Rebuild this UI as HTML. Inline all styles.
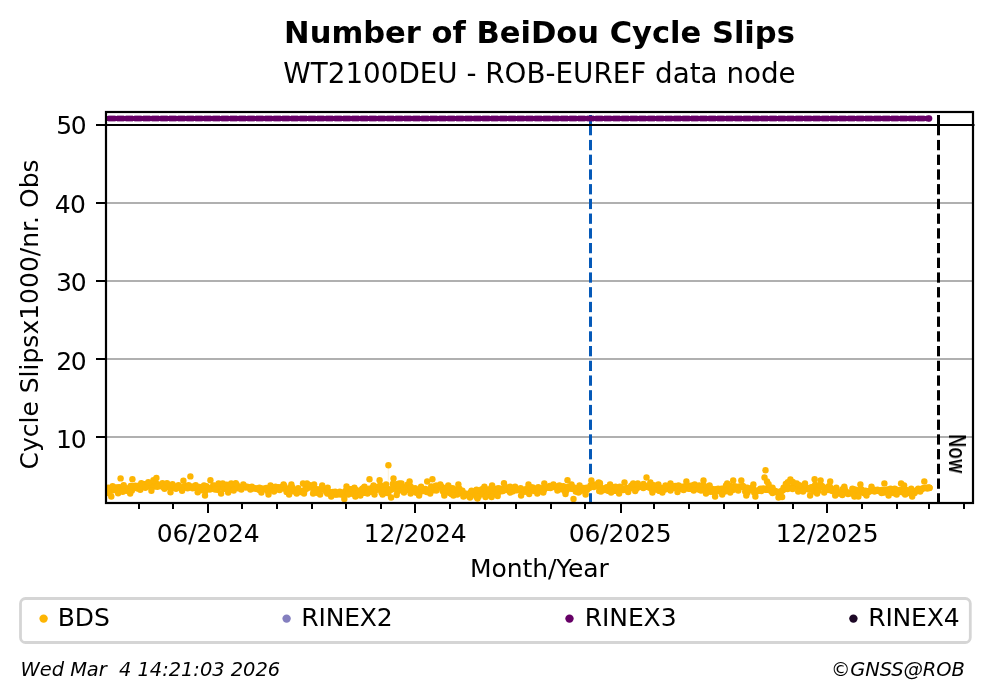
<!DOCTYPE html>
<html lang="en"><head><meta charset="utf-8"><title>Number of BeiDou Cycle Slips</title>
<style>html,body{margin:0;padding:0;background:#fff;overflow:hidden}svg{display:block}text{font-family:"DejaVu Sans", "Liberation Sans", sans-serif;fill:#000}</style></head><body>
<svg width="993" height="699" viewBox="0 0 993 699">
<rect width="993" height="699" fill="#fff"/>
<defs><clipPath id="ax"><rect x="106.0" y="112.0" width="867.0" height="391.0"/></clipPath></defs>
<text x="539.5" y="43.1" font-size="30.56" font-weight="bold" text-anchor="middle">Number of BeiDou Cycle Slips</text>
<text x="539.5" y="82.9" font-size="27.78" text-anchor="middle">WT2100DEU - ROB-EUREF data node</text>
<g stroke="#b0b0b0" stroke-width="2" clip-path="url(#ax)">
<line x1="106.0" x2="973.0" y1="437.00" y2="437.00"/>
<line x1="106.0" x2="973.0" y1="359.00" y2="359.00"/>
<line x1="106.0" x2="973.0" y1="281.00" y2="281.00"/>
<line x1="106.0" x2="973.0" y1="203.00" y2="203.00"/>
</g>
<g stroke="#0559b8" stroke-width="3" clip-path="url(#ax)"><line x1="590.5" x2="590.5" y1="115.0" y2="135.3"/><line x1="590.5" x2="590.5" y1="139.94" y2="150.22"/><line x1="590.5" x2="590.5" y1="154.66" y2="164.94"/><line x1="590.5" x2="590.5" y1="169.38" y2="179.66"/><line x1="590.5" x2="590.5" y1="184.10" y2="194.38"/><line x1="590.5" x2="590.5" y1="198.82" y2="209.10"/><line x1="590.5" x2="590.5" y1="213.54" y2="223.82"/><line x1="590.5" x2="590.5" y1="228.26" y2="238.54"/><line x1="590.5" x2="590.5" y1="242.98" y2="253.26"/><line x1="590.5" x2="590.5" y1="257.70" y2="267.98"/><line x1="590.5" x2="590.5" y1="272.42" y2="282.70"/><line x1="590.5" x2="590.5" y1="287.14" y2="297.42"/><line x1="590.5" x2="590.5" y1="301.86" y2="312.14"/><line x1="590.5" x2="590.5" y1="316.58" y2="326.86"/><line x1="590.5" x2="590.5" y1="331.30" y2="341.58"/><line x1="590.5" x2="590.5" y1="346.02" y2="356.30"/><line x1="590.5" x2="590.5" y1="360.74" y2="371.02"/><line x1="590.5" x2="590.5" y1="375.46" y2="385.74"/><line x1="590.5" x2="590.5" y1="390.18" y2="400.46"/><line x1="590.5" x2="590.5" y1="404.90" y2="415.18"/><line x1="590.5" x2="590.5" y1="419.62" y2="429.90"/><line x1="590.5" x2="590.5" y1="434.34" y2="444.62"/><line x1="590.5" x2="590.5" y1="449.06" y2="459.34"/><line x1="590.5" x2="590.5" y1="463.78" y2="474.06"/><line x1="590.5" x2="590.5" y1="478.50" y2="488.78"/><line x1="590.5" x2="590.5" y1="493.22" y2="503.50"/><line x1="590.5" x2="590.5" y1="507.94" y2="518.22"/></g>
<g stroke="#000" stroke-width="3" clip-path="url(#ax)"><line x1="938.5" x2="938.5" y1="115.0" y2="135.3"/><line x1="938.5" x2="938.5" y1="139.94" y2="150.22"/><line x1="938.5" x2="938.5" y1="154.66" y2="164.94"/><line x1="938.5" x2="938.5" y1="169.38" y2="179.66"/><line x1="938.5" x2="938.5" y1="184.10" y2="194.38"/><line x1="938.5" x2="938.5" y1="198.82" y2="209.10"/><line x1="938.5" x2="938.5" y1="213.54" y2="223.82"/><line x1="938.5" x2="938.5" y1="228.26" y2="238.54"/><line x1="938.5" x2="938.5" y1="242.98" y2="253.26"/><line x1="938.5" x2="938.5" y1="257.70" y2="267.98"/><line x1="938.5" x2="938.5" y1="272.42" y2="282.70"/><line x1="938.5" x2="938.5" y1="287.14" y2="297.42"/><line x1="938.5" x2="938.5" y1="301.86" y2="312.14"/><line x1="938.5" x2="938.5" y1="316.58" y2="326.86"/><line x1="938.5" x2="938.5" y1="331.30" y2="341.58"/><line x1="938.5" x2="938.5" y1="346.02" y2="356.30"/><line x1="938.5" x2="938.5" y1="360.74" y2="371.02"/><line x1="938.5" x2="938.5" y1="375.46" y2="385.74"/><line x1="938.5" x2="938.5" y1="390.18" y2="400.46"/><line x1="938.5" x2="938.5" y1="404.90" y2="415.18"/><line x1="938.5" x2="938.5" y1="419.62" y2="429.90"/><line x1="938.5" x2="938.5" y1="434.34" y2="444.62"/><line x1="938.5" x2="938.5" y1="449.06" y2="459.34"/><line x1="938.5" x2="938.5" y1="463.78" y2="474.06"/><line x1="938.5" x2="938.5" y1="478.50" y2="488.78"/><line x1="938.5" x2="938.5" y1="493.22" y2="503.50"/><line x1="938.5" x2="938.5" y1="507.94" y2="518.22"/></g>
<line x1="106.0" x2="974.5" y1="125.00" y2="125.00" stroke="#000" stroke-width="2"/>
<line x1="388.4" x2="388.4" y1="468" y2="483" stroke="#fdb503" stroke-width="1.4" opacity="0.12"/>
<g fill="#fdb503" clip-path="url(#ax)">
<circle cx="107.0" cy="489.8" r="3.2"/>
<circle cx="108.1" cy="489.3" r="3.2"/>
<circle cx="109.3" cy="491.0" r="3.2"/>
<circle cx="110.4" cy="488.6" r="3.2"/>
<circle cx="111.5" cy="490.7" r="3.2"/>
<circle cx="112.6" cy="489.6" r="3.2"/>
<circle cx="113.8" cy="487.8" r="3.2"/>
<circle cx="114.9" cy="490.0" r="3.2"/>
<circle cx="116.0" cy="487.5" r="3.2"/>
<circle cx="117.2" cy="489.3" r="3.2"/>
<circle cx="118.3" cy="487.4" r="3.2"/>
<circle cx="119.4" cy="487.3" r="3.2"/>
<circle cx="120.6" cy="488.7" r="3.2"/>
<circle cx="121.7" cy="490.1" r="3.2"/>
<circle cx="122.8" cy="487.1" r="3.2"/>
<circle cx="123.9" cy="487.4" r="3.2"/>
<circle cx="125.1" cy="489.2" r="3.2"/>
<circle cx="126.2" cy="490.8" r="3.2"/>
<circle cx="127.3" cy="489.1" r="3.2"/>
<circle cx="128.5" cy="488.1" r="3.2"/>
<circle cx="129.6" cy="491.5" r="3.2"/>
<circle cx="130.7" cy="486.0" r="3.2"/>
<circle cx="131.9" cy="490.4" r="3.2"/>
<circle cx="133.0" cy="487.0" r="3.2"/>
<circle cx="134.1" cy="486.1" r="3.2"/>
<circle cx="135.2" cy="485.8" r="3.2"/>
<circle cx="136.4" cy="486.5" r="3.2"/>
<circle cx="137.5" cy="488.6" r="3.2"/>
<circle cx="138.6" cy="485.6" r="3.2"/>
<circle cx="139.8" cy="487.0" r="3.2"/>
<circle cx="140.9" cy="486.9" r="3.2"/>
<circle cx="142.0" cy="485.7" r="3.2"/>
<circle cx="143.1" cy="485.9" r="3.2"/>
<circle cx="144.3" cy="484.3" r="3.2"/>
<circle cx="145.4" cy="484.1" r="3.2"/>
<circle cx="146.5" cy="484.4" r="3.2"/>
<circle cx="147.7" cy="486.4" r="3.2"/>
<circle cx="148.8" cy="485.5" r="3.2"/>
<circle cx="149.9" cy="485.1" r="3.2"/>
<circle cx="151.1" cy="486.9" r="3.2"/>
<circle cx="152.2" cy="485.9" r="3.2"/>
<circle cx="153.3" cy="484.8" r="3.2"/>
<circle cx="154.4" cy="486.6" r="3.2"/>
<circle cx="155.6" cy="485.7" r="3.2"/>
<circle cx="156.7" cy="484.0" r="3.2"/>
<circle cx="157.8" cy="484.8" r="3.2"/>
<circle cx="159.0" cy="484.9" r="3.2"/>
<circle cx="160.1" cy="486.0" r="3.2"/>
<circle cx="161.2" cy="486.0" r="3.2"/>
<circle cx="162.3" cy="485.2" r="3.2"/>
<circle cx="163.5" cy="487.2" r="3.2"/>
<circle cx="164.6" cy="484.9" r="3.2"/>
<circle cx="165.7" cy="485.9" r="3.2"/>
<circle cx="166.9" cy="487.1" r="3.2"/>
<circle cx="168.0" cy="485.2" r="3.2"/>
<circle cx="169.1" cy="486.6" r="3.2"/>
<circle cx="170.3" cy="485.2" r="3.2"/>
<circle cx="171.4" cy="487.4" r="3.2"/>
<circle cx="172.5" cy="487.6" r="3.2"/>
<circle cx="173.6" cy="487.0" r="3.2"/>
<circle cx="174.8" cy="487.5" r="3.2"/>
<circle cx="175.9" cy="486.5" r="3.2"/>
<circle cx="177.0" cy="487.3" r="3.2"/>
<circle cx="178.2" cy="487.3" r="3.2"/>
<circle cx="179.3" cy="487.4" r="3.2"/>
<circle cx="180.4" cy="487.1" r="3.2"/>
<circle cx="181.6" cy="488.1" r="3.2"/>
<circle cx="182.7" cy="488.4" r="3.2"/>
<circle cx="183.8" cy="486.7" r="3.2"/>
<circle cx="184.9" cy="487.1" r="3.2"/>
<circle cx="186.1" cy="486.0" r="3.2"/>
<circle cx="187.2" cy="486.8" r="3.2"/>
<circle cx="188.3" cy="486.8" r="3.2"/>
<circle cx="189.5" cy="487.0" r="3.2"/>
<circle cx="190.6" cy="486.9" r="3.2"/>
<circle cx="191.7" cy="486.6" r="3.2"/>
<circle cx="192.8" cy="486.8" r="3.2"/>
<circle cx="194.0" cy="487.5" r="3.2"/>
<circle cx="195.1" cy="486.6" r="3.2"/>
<circle cx="196.2" cy="488.0" r="3.2"/>
<circle cx="197.4" cy="487.2" r="3.2"/>
<circle cx="198.5" cy="487.1" r="3.2"/>
<circle cx="199.6" cy="486.9" r="3.2"/>
<circle cx="200.8" cy="490.3" r="3.2"/>
<circle cx="201.9" cy="487.3" r="3.2"/>
<circle cx="203.0" cy="488.0" r="3.2"/>
<circle cx="204.1" cy="488.8" r="3.2"/>
<circle cx="205.3" cy="491.3" r="3.2"/>
<circle cx="206.4" cy="486.1" r="3.2"/>
<circle cx="207.5" cy="487.8" r="3.2"/>
<circle cx="208.7" cy="487.9" r="3.2"/>
<circle cx="209.8" cy="489.6" r="3.2"/>
<circle cx="210.9" cy="488.7" r="3.2"/>
<circle cx="212.0" cy="488.7" r="3.2"/>
<circle cx="213.2" cy="485.4" r="3.2"/>
<circle cx="214.3" cy="486.0" r="3.2"/>
<circle cx="215.4" cy="485.8" r="3.2"/>
<circle cx="216.6" cy="488.6" r="3.2"/>
<circle cx="217.7" cy="489.7" r="3.2"/>
<circle cx="218.8" cy="485.7" r="3.2"/>
<circle cx="220.0" cy="486.0" r="3.2"/>
<circle cx="221.1" cy="486.5" r="3.2"/>
<circle cx="222.2" cy="486.5" r="3.2"/>
<circle cx="223.3" cy="488.1" r="3.2"/>
<circle cx="224.5" cy="488.7" r="3.2"/>
<circle cx="225.6" cy="486.4" r="3.2"/>
<circle cx="226.7" cy="484.8" r="3.2"/>
<circle cx="227.9" cy="487.2" r="3.2"/>
<circle cx="229.0" cy="486.8" r="3.2"/>
<circle cx="230.1" cy="487.7" r="3.2"/>
<circle cx="231.3" cy="489.5" r="3.2"/>
<circle cx="232.4" cy="488.0" r="3.2"/>
<circle cx="233.5" cy="487.0" r="3.2"/>
<circle cx="234.6" cy="487.4" r="3.2"/>
<circle cx="235.8" cy="487.5" r="3.2"/>
<circle cx="236.9" cy="485.0" r="3.2"/>
<circle cx="238.0" cy="488.3" r="3.2"/>
<circle cx="239.2" cy="487.7" r="3.2"/>
<circle cx="240.3" cy="488.0" r="3.2"/>
<circle cx="241.4" cy="487.7" r="3.2"/>
<circle cx="242.5" cy="486.7" r="3.2"/>
<circle cx="243.7" cy="486.8" r="3.2"/>
<circle cx="244.8" cy="486.4" r="3.2"/>
<circle cx="245.9" cy="487.6" r="3.2"/>
<circle cx="247.1" cy="486.8" r="3.2"/>
<circle cx="248.2" cy="487.1" r="3.2"/>
<circle cx="249.3" cy="487.5" r="3.2"/>
<circle cx="250.5" cy="487.7" r="3.2"/>
<circle cx="251.6" cy="488.0" r="3.2"/>
<circle cx="252.7" cy="488.0" r="3.2"/>
<circle cx="253.8" cy="488.2" r="3.2"/>
<circle cx="255.0" cy="488.4" r="3.2"/>
<circle cx="256.1" cy="488.5" r="3.2"/>
<circle cx="257.2" cy="489.0" r="3.2"/>
<circle cx="258.4" cy="488.8" r="3.2"/>
<circle cx="259.5" cy="489.9" r="3.2"/>
<circle cx="260.6" cy="489.6" r="3.2"/>
<circle cx="261.7" cy="488.8" r="3.2"/>
<circle cx="262.9" cy="488.8" r="3.2"/>
<circle cx="264.0" cy="489.0" r="3.2"/>
<circle cx="265.1" cy="488.9" r="3.2"/>
<circle cx="266.3" cy="488.0" r="3.2"/>
<circle cx="267.4" cy="490.7" r="3.2"/>
<circle cx="268.5" cy="491.4" r="3.2"/>
<circle cx="269.7" cy="488.9" r="3.2"/>
<circle cx="270.8" cy="488.8" r="3.2"/>
<circle cx="271.9" cy="487.4" r="3.2"/>
<circle cx="273.0" cy="487.7" r="3.2"/>
<circle cx="274.2" cy="488.5" r="3.2"/>
<circle cx="275.3" cy="488.4" r="3.2"/>
<circle cx="276.4" cy="489.2" r="3.2"/>
<circle cx="277.6" cy="487.7" r="3.2"/>
<circle cx="278.7" cy="487.1" r="3.2"/>
<circle cx="279.8" cy="488.7" r="3.2"/>
<circle cx="281.0" cy="488.0" r="3.2"/>
<circle cx="282.1" cy="486.7" r="3.2"/>
<circle cx="283.2" cy="488.4" r="3.2"/>
<circle cx="284.3" cy="485.9" r="3.2"/>
<circle cx="285.5" cy="488.8" r="3.2"/>
<circle cx="286.6" cy="491.9" r="3.2"/>
<circle cx="287.7" cy="491.6" r="3.2"/>
<circle cx="288.9" cy="490.9" r="3.2"/>
<circle cx="290.0" cy="487.7" r="3.2"/>
<circle cx="291.1" cy="488.4" r="3.2"/>
<circle cx="292.2" cy="487.3" r="3.2"/>
<circle cx="293.4" cy="491.3" r="3.2"/>
<circle cx="294.5" cy="490.1" r="3.2"/>
<circle cx="295.6" cy="491.4" r="3.2"/>
<circle cx="296.8" cy="489.8" r="3.2"/>
<circle cx="297.9" cy="489.9" r="3.2"/>
<circle cx="299.0" cy="491.5" r="3.2"/>
<circle cx="300.2" cy="492.1" r="3.2"/>
<circle cx="301.3" cy="491.4" r="3.2"/>
<circle cx="302.4" cy="490.9" r="3.2"/>
<circle cx="303.5" cy="490.9" r="3.2"/>
<circle cx="304.7" cy="490.3" r="3.2"/>
<circle cx="305.8" cy="486.5" r="3.2"/>
<circle cx="306.9" cy="488.6" r="3.2"/>
<circle cx="308.1" cy="487.5" r="3.2"/>
<circle cx="309.2" cy="485.3" r="3.2"/>
<circle cx="310.3" cy="485.5" r="3.2"/>
<circle cx="311.5" cy="487.3" r="3.2"/>
<circle cx="312.6" cy="487.3" r="3.2"/>
<circle cx="313.7" cy="490.3" r="3.2"/>
<circle cx="314.8" cy="492.2" r="3.2"/>
<circle cx="316.0" cy="489.0" r="3.2"/>
<circle cx="317.1" cy="492.4" r="3.2"/>
<circle cx="318.2" cy="492.9" r="3.2"/>
<circle cx="319.4" cy="492.8" r="3.2"/>
<circle cx="320.5" cy="489.0" r="3.2"/>
<circle cx="321.6" cy="488.2" r="3.2"/>
<circle cx="322.7" cy="488.5" r="3.2"/>
<circle cx="323.9" cy="488.7" r="3.2"/>
<circle cx="325.0" cy="489.1" r="3.2"/>
<circle cx="326.1" cy="491.8" r="3.2"/>
<circle cx="327.3" cy="493.5" r="3.2"/>
<circle cx="328.4" cy="493.3" r="3.2"/>
<circle cx="329.5" cy="492.0" r="3.2"/>
<circle cx="330.7" cy="493.0" r="3.2"/>
<circle cx="331.8" cy="493.8" r="3.2"/>
<circle cx="332.9" cy="491.9" r="3.2"/>
<circle cx="334.0" cy="493.8" r="3.2"/>
<circle cx="335.2" cy="494.5" r="3.2"/>
<circle cx="336.3" cy="494.4" r="3.2"/>
<circle cx="337.4" cy="494.4" r="3.2"/>
<circle cx="338.6" cy="493.9" r="3.2"/>
<circle cx="339.7" cy="493.3" r="3.2"/>
<circle cx="340.8" cy="494.5" r="3.2"/>
<circle cx="341.9" cy="492.6" r="3.2"/>
<circle cx="343.1" cy="494.3" r="3.2"/>
<circle cx="344.2" cy="495.2" r="3.2"/>
<circle cx="345.3" cy="491.1" r="3.2"/>
<circle cx="346.5" cy="490.3" r="3.2"/>
<circle cx="347.6" cy="493.3" r="3.2"/>
<circle cx="348.7" cy="491.9" r="3.2"/>
<circle cx="349.9" cy="489.1" r="3.2"/>
<circle cx="351.0" cy="489.1" r="3.2"/>
<circle cx="352.1" cy="489.4" r="3.2"/>
<circle cx="353.2" cy="494.0" r="3.2"/>
<circle cx="354.4" cy="493.7" r="3.2"/>
<circle cx="355.5" cy="489.7" r="3.2"/>
<circle cx="356.6" cy="493.9" r="3.2"/>
<circle cx="357.8" cy="494.6" r="3.2"/>
<circle cx="358.9" cy="492.4" r="3.2"/>
<circle cx="360.0" cy="490.4" r="3.2"/>
<circle cx="361.2" cy="491.4" r="3.2"/>
<circle cx="362.3" cy="488.8" r="3.2"/>
<circle cx="363.4" cy="488.1" r="3.2"/>
<circle cx="364.5" cy="492.9" r="3.2"/>
<circle cx="365.7" cy="490.8" r="3.2"/>
<circle cx="366.8" cy="489.8" r="3.2"/>
<circle cx="367.9" cy="491.9" r="3.2"/>
<circle cx="369.1" cy="488.7" r="3.2"/>
<circle cx="370.2" cy="491.7" r="3.2"/>
<circle cx="371.3" cy="491.6" r="3.2"/>
<circle cx="372.4" cy="487.8" r="3.2"/>
<circle cx="373.6" cy="488.3" r="3.2"/>
<circle cx="374.7" cy="488.2" r="3.2"/>
<circle cx="375.8" cy="487.4" r="3.2"/>
<circle cx="377.0" cy="489.8" r="3.2"/>
<circle cx="378.1" cy="486.7" r="3.2"/>
<circle cx="379.2" cy="487.7" r="3.2"/>
<circle cx="380.4" cy="485.1" r="3.2"/>
<circle cx="381.5" cy="492.4" r="3.2"/>
<circle cx="382.6" cy="487.7" r="3.2"/>
<circle cx="383.7" cy="488.8" r="3.2"/>
<circle cx="384.9" cy="490.1" r="3.2"/>
<circle cx="386.0" cy="492.9" r="3.2"/>
<circle cx="387.1" cy="489.0" r="3.2"/>
<circle cx="388.3" cy="493.3" r="3.2"/>
<circle cx="389.4" cy="489.5" r="3.2"/>
<circle cx="390.5" cy="489.7" r="3.2"/>
<circle cx="391.6" cy="489.5" r="3.2"/>
<circle cx="392.8" cy="484.0" r="3.2"/>
<circle cx="393.9" cy="488.2" r="3.2"/>
<circle cx="395.0" cy="485.8" r="3.2"/>
<circle cx="396.2" cy="484.2" r="3.2"/>
<circle cx="397.3" cy="491.7" r="3.2"/>
<circle cx="398.4" cy="486.1" r="3.2"/>
<circle cx="399.6" cy="488.6" r="3.2"/>
<circle cx="400.7" cy="490.3" r="3.2"/>
<circle cx="401.8" cy="488.8" r="3.2"/>
<circle cx="402.9" cy="486.9" r="3.2"/>
<circle cx="404.1" cy="487.9" r="3.2"/>
<circle cx="405.2" cy="488.2" r="3.2"/>
<circle cx="406.3" cy="489.9" r="3.2"/>
<circle cx="407.5" cy="484.7" r="3.2"/>
<circle cx="408.6" cy="488.3" r="3.2"/>
<circle cx="409.7" cy="485.8" r="3.2"/>
<circle cx="410.9" cy="486.9" r="3.2"/>
<circle cx="412.0" cy="491.0" r="3.2"/>
<circle cx="413.1" cy="490.0" r="3.2"/>
<circle cx="414.2" cy="490.9" r="3.2"/>
<circle cx="415.4" cy="492.0" r="3.2"/>
<circle cx="416.5" cy="492.7" r="3.2"/>
<circle cx="417.6" cy="490.7" r="3.2"/>
<circle cx="418.8" cy="491.5" r="3.2"/>
<circle cx="419.9" cy="490.8" r="3.2"/>
<circle cx="421.0" cy="490.6" r="3.2"/>
<circle cx="422.1" cy="491.3" r="3.2"/>
<circle cx="423.3" cy="489.5" r="3.2"/>
<circle cx="424.4" cy="489.7" r="3.2"/>
<circle cx="425.5" cy="488.9" r="3.2"/>
<circle cx="426.7" cy="492.1" r="3.2"/>
<circle cx="427.8" cy="490.1" r="3.2"/>
<circle cx="428.9" cy="491.4" r="3.2"/>
<circle cx="430.1" cy="491.8" r="3.2"/>
<circle cx="431.2" cy="486.4" r="3.2"/>
<circle cx="432.3" cy="488.3" r="3.2"/>
<circle cx="433.4" cy="490.3" r="3.2"/>
<circle cx="434.6" cy="489.2" r="3.2"/>
<circle cx="435.7" cy="485.7" r="3.2"/>
<circle cx="436.8" cy="485.8" r="3.2"/>
<circle cx="438.0" cy="487.6" r="3.2"/>
<circle cx="439.1" cy="486.0" r="3.2"/>
<circle cx="440.2" cy="487.2" r="3.2"/>
<circle cx="441.3" cy="486.4" r="3.2"/>
<circle cx="442.5" cy="490.8" r="3.2"/>
<circle cx="443.6" cy="492.1" r="3.2"/>
<circle cx="444.7" cy="493.4" r="3.2"/>
<circle cx="445.9" cy="487.7" r="3.2"/>
<circle cx="447.0" cy="492.1" r="3.2"/>
<circle cx="448.1" cy="491.7" r="3.2"/>
<circle cx="449.3" cy="487.8" r="3.2"/>
<circle cx="450.4" cy="493.3" r="3.2"/>
<circle cx="451.5" cy="493.9" r="3.2"/>
<circle cx="452.6" cy="488.1" r="3.2"/>
<circle cx="453.8" cy="493.9" r="3.2"/>
<circle cx="454.9" cy="489.4" r="3.2"/>
<circle cx="456.0" cy="490.1" r="3.2"/>
<circle cx="457.2" cy="494.5" r="3.2"/>
<circle cx="458.3" cy="493.2" r="3.2"/>
<circle cx="459.4" cy="488.6" r="3.2"/>
<circle cx="460.6" cy="491.6" r="3.2"/>
<circle cx="461.7" cy="493.0" r="3.2"/>
<circle cx="462.8" cy="493.2" r="3.2"/>
<circle cx="463.9" cy="493.5" r="3.2"/>
<circle cx="465.1" cy="494.4" r="3.2"/>
<circle cx="466.2" cy="495.4" r="3.2"/>
<circle cx="467.3" cy="494.4" r="3.2"/>
<circle cx="468.5" cy="495.0" r="3.2"/>
<circle cx="469.6" cy="494.4" r="3.2"/>
<circle cx="470.7" cy="492.4" r="3.2"/>
<circle cx="471.8" cy="493.3" r="3.2"/>
<circle cx="473.0" cy="494.6" r="3.2"/>
<circle cx="474.1" cy="494.0" r="3.2"/>
<circle cx="475.2" cy="491.5" r="3.2"/>
<circle cx="476.4" cy="496.7" r="3.2"/>
<circle cx="477.5" cy="495.6" r="3.2"/>
<circle cx="478.6" cy="496.5" r="3.2"/>
<circle cx="479.8" cy="490.5" r="3.2"/>
<circle cx="480.9" cy="491.3" r="3.2"/>
<circle cx="482.0" cy="489.3" r="3.2"/>
<circle cx="483.1" cy="494.4" r="3.2"/>
<circle cx="484.3" cy="490.3" r="3.2"/>
<circle cx="485.4" cy="489.0" r="3.2"/>
<circle cx="486.5" cy="491.1" r="3.2"/>
<circle cx="487.7" cy="495.0" r="3.2"/>
<circle cx="488.8" cy="494.2" r="3.2"/>
<circle cx="489.9" cy="489.4" r="3.2"/>
<circle cx="491.1" cy="488.3" r="3.2"/>
<circle cx="492.2" cy="494.9" r="3.2"/>
<circle cx="493.3" cy="491.9" r="3.2"/>
<circle cx="494.4" cy="493.0" r="3.2"/>
<circle cx="495.6" cy="488.9" r="3.2"/>
<circle cx="496.7" cy="489.1" r="3.2"/>
<circle cx="497.8" cy="492.9" r="3.2"/>
<circle cx="499.0" cy="490.9" r="3.2"/>
<circle cx="500.1" cy="488.8" r="3.2"/>
<circle cx="501.2" cy="491.2" r="3.2"/>
<circle cx="502.3" cy="489.3" r="3.2"/>
<circle cx="503.5" cy="489.2" r="3.2"/>
<circle cx="504.6" cy="487.1" r="3.2"/>
<circle cx="505.7" cy="489.8" r="3.2"/>
<circle cx="506.9" cy="487.5" r="3.2"/>
<circle cx="508.0" cy="490.3" r="3.2"/>
<circle cx="509.1" cy="489.2" r="3.2"/>
<circle cx="510.3" cy="489.0" r="3.2"/>
<circle cx="511.4" cy="489.9" r="3.2"/>
<circle cx="512.5" cy="491.4" r="3.2"/>
<circle cx="513.6" cy="489.0" r="3.2"/>
<circle cx="514.8" cy="488.4" r="3.2"/>
<circle cx="515.9" cy="490.4" r="3.2"/>
<circle cx="517.0" cy="489.4" r="3.2"/>
<circle cx="518.2" cy="489.2" r="3.2"/>
<circle cx="519.3" cy="489.7" r="3.2"/>
<circle cx="520.4" cy="489.5" r="3.2"/>
<circle cx="521.5" cy="489.9" r="3.2"/>
<circle cx="522.7" cy="490.1" r="3.2"/>
<circle cx="523.8" cy="489.8" r="3.2"/>
<circle cx="524.9" cy="491.7" r="3.2"/>
<circle cx="526.1" cy="489.1" r="3.2"/>
<circle cx="527.2" cy="489.9" r="3.2"/>
<circle cx="528.3" cy="487.8" r="3.2"/>
<circle cx="529.5" cy="488.8" r="3.2"/>
<circle cx="530.6" cy="487.2" r="3.2"/>
<circle cx="531.7" cy="488.5" r="3.2"/>
<circle cx="532.8" cy="487.5" r="3.2"/>
<circle cx="534.0" cy="491.0" r="3.2"/>
<circle cx="535.1" cy="490.3" r="3.2"/>
<circle cx="536.2" cy="488.8" r="3.2"/>
<circle cx="537.4" cy="490.1" r="3.2"/>
<circle cx="538.5" cy="491.8" r="3.2"/>
<circle cx="539.6" cy="488.1" r="3.2"/>
<circle cx="540.8" cy="490.8" r="3.2"/>
<circle cx="541.9" cy="488.5" r="3.2"/>
<circle cx="543.0" cy="488.4" r="3.2"/>
<circle cx="544.1" cy="489.7" r="3.2"/>
<circle cx="545.3" cy="486.9" r="3.2"/>
<circle cx="546.4" cy="487.2" r="3.2"/>
<circle cx="547.5" cy="487.5" r="3.2"/>
<circle cx="548.7" cy="487.8" r="3.2"/>
<circle cx="549.8" cy="486.0" r="3.2"/>
<circle cx="550.9" cy="486.7" r="3.2"/>
<circle cx="552.0" cy="486.8" r="3.2"/>
<circle cx="553.2" cy="487.0" r="3.2"/>
<circle cx="554.3" cy="486.8" r="3.2"/>
<circle cx="555.4" cy="487.0" r="3.2"/>
<circle cx="556.6" cy="486.5" r="3.2"/>
<circle cx="557.7" cy="486.9" r="3.2"/>
<circle cx="558.8" cy="486.9" r="3.2"/>
<circle cx="560.0" cy="489.3" r="3.2"/>
<circle cx="561.1" cy="487.4" r="3.2"/>
<circle cx="562.2" cy="486.9" r="3.2"/>
<circle cx="563.3" cy="486.2" r="3.2"/>
<circle cx="564.5" cy="491.0" r="3.2"/>
<circle cx="565.6" cy="491.5" r="3.2"/>
<circle cx="566.7" cy="489.9" r="3.2"/>
<circle cx="567.9" cy="486.9" r="3.2"/>
<circle cx="569.0" cy="486.8" r="3.2"/>
<circle cx="570.1" cy="487.4" r="3.2"/>
<circle cx="571.2" cy="488.8" r="3.2"/>
<circle cx="572.4" cy="486.9" r="3.2"/>
<circle cx="573.5" cy="488.9" r="3.2"/>
<circle cx="574.6" cy="487.8" r="3.2"/>
<circle cx="575.8" cy="491.6" r="3.2"/>
<circle cx="576.9" cy="491.4" r="3.2"/>
<circle cx="578.0" cy="489.2" r="3.2"/>
<circle cx="579.2" cy="487.9" r="3.2"/>
<circle cx="580.3" cy="491.3" r="3.2"/>
<circle cx="581.4" cy="488.7" r="3.2"/>
<circle cx="582.5" cy="489.2" r="3.2"/>
<circle cx="583.7" cy="488.0" r="3.2"/>
<circle cx="584.8" cy="489.9" r="3.2"/>
<circle cx="585.9" cy="490.3" r="3.2"/>
<circle cx="587.1" cy="489.8" r="3.2"/>
<circle cx="588.2" cy="488.0" r="3.2"/>
<circle cx="589.3" cy="487.9" r="3.2"/>
<circle cx="590.5" cy="485.5" r="3.2"/>
<circle cx="591.6" cy="485.4" r="3.2"/>
<circle cx="592.7" cy="484.8" r="3.2"/>
<circle cx="593.8" cy="485.1" r="3.2"/>
<circle cx="595.0" cy="484.7" r="3.2"/>
<circle cx="596.1" cy="484.7" r="3.2"/>
<circle cx="597.2" cy="485.7" r="3.2"/>
<circle cx="598.4" cy="485.6" r="3.2"/>
<circle cx="599.5" cy="487.6" r="3.2"/>
<circle cx="600.6" cy="487.5" r="3.2"/>
<circle cx="601.7" cy="488.9" r="3.2"/>
<circle cx="602.9" cy="488.5" r="3.2"/>
<circle cx="604.0" cy="489.0" r="3.2"/>
<circle cx="605.1" cy="490.0" r="3.2"/>
<circle cx="606.3" cy="487.4" r="3.2"/>
<circle cx="607.4" cy="487.2" r="3.2"/>
<circle cx="608.5" cy="490.9" r="3.2"/>
<circle cx="609.7" cy="486.5" r="3.2"/>
<circle cx="610.8" cy="489.8" r="3.2"/>
<circle cx="611.9" cy="489.5" r="3.2"/>
<circle cx="613.0" cy="487.1" r="3.2"/>
<circle cx="614.2" cy="490.6" r="3.2"/>
<circle cx="615.3" cy="490.9" r="3.2"/>
<circle cx="616.4" cy="489.9" r="3.2"/>
<circle cx="617.6" cy="490.2" r="3.2"/>
<circle cx="618.7" cy="490.5" r="3.2"/>
<circle cx="619.8" cy="486.7" r="3.2"/>
<circle cx="620.9" cy="488.5" r="3.2"/>
<circle cx="622.1" cy="488.1" r="3.2"/>
<circle cx="623.2" cy="490.0" r="3.2"/>
<circle cx="624.3" cy="489.6" r="3.2"/>
<circle cx="625.5" cy="489.7" r="3.2"/>
<circle cx="626.6" cy="488.0" r="3.2"/>
<circle cx="627.7" cy="490.0" r="3.2"/>
<circle cx="628.9" cy="488.6" r="3.2"/>
<circle cx="630.0" cy="488.6" r="3.2"/>
<circle cx="631.1" cy="485.9" r="3.2"/>
<circle cx="632.2" cy="484.9" r="3.2"/>
<circle cx="633.4" cy="485.5" r="3.2"/>
<circle cx="634.5" cy="486.6" r="3.2"/>
<circle cx="635.6" cy="485.3" r="3.2"/>
<circle cx="636.8" cy="488.4" r="3.2"/>
<circle cx="637.9" cy="487.0" r="3.2"/>
<circle cx="639.0" cy="486.9" r="3.2"/>
<circle cx="640.2" cy="486.6" r="3.2"/>
<circle cx="641.3" cy="486.4" r="3.2"/>
<circle cx="642.4" cy="485.6" r="3.2"/>
<circle cx="643.5" cy="484.0" r="3.2"/>
<circle cx="644.7" cy="486.7" r="3.2"/>
<circle cx="645.8" cy="486.9" r="3.2"/>
<circle cx="646.9" cy="486.1" r="3.2"/>
<circle cx="648.1" cy="486.6" r="3.2"/>
<circle cx="649.2" cy="487.6" r="3.2"/>
<circle cx="650.3" cy="484.2" r="3.2"/>
<circle cx="651.4" cy="489.0" r="3.2"/>
<circle cx="652.6" cy="486.1" r="3.2"/>
<circle cx="653.7" cy="485.1" r="3.2"/>
<circle cx="654.8" cy="486.6" r="3.2"/>
<circle cx="656.0" cy="489.5" r="3.2"/>
<circle cx="657.1" cy="486.6" r="3.2"/>
<circle cx="658.2" cy="489.7" r="3.2"/>
<circle cx="659.4" cy="490.9" r="3.2"/>
<circle cx="660.5" cy="488.5" r="3.2"/>
<circle cx="661.6" cy="488.0" r="3.2"/>
<circle cx="662.7" cy="488.5" r="3.2"/>
<circle cx="663.9" cy="489.3" r="3.2"/>
<circle cx="665.0" cy="489.5" r="3.2"/>
<circle cx="666.1" cy="488.7" r="3.2"/>
<circle cx="667.3" cy="488.5" r="3.2"/>
<circle cx="668.4" cy="486.0" r="3.2"/>
<circle cx="669.5" cy="485.8" r="3.2"/>
<circle cx="670.7" cy="486.0" r="3.2"/>
<circle cx="671.8" cy="488.3" r="3.2"/>
<circle cx="672.9" cy="486.7" r="3.2"/>
<circle cx="674.0" cy="488.0" r="3.2"/>
<circle cx="675.2" cy="486.0" r="3.2"/>
<circle cx="676.3" cy="486.5" r="3.2"/>
<circle cx="677.4" cy="487.6" r="3.2"/>
<circle cx="678.6" cy="489.0" r="3.2"/>
<circle cx="679.7" cy="488.8" r="3.2"/>
<circle cx="680.8" cy="488.4" r="3.2"/>
<circle cx="681.9" cy="486.8" r="3.2"/>
<circle cx="683.1" cy="487.2" r="3.2"/>
<circle cx="684.2" cy="486.8" r="3.2"/>
<circle cx="685.3" cy="486.7" r="3.2"/>
<circle cx="686.5" cy="485.1" r="3.2"/>
<circle cx="687.6" cy="488.5" r="3.2"/>
<circle cx="688.7" cy="485.7" r="3.2"/>
<circle cx="689.9" cy="488.9" r="3.2"/>
<circle cx="691.0" cy="488.8" r="3.2"/>
<circle cx="692.1" cy="485.5" r="3.2"/>
<circle cx="693.2" cy="487.2" r="3.2"/>
<circle cx="694.4" cy="488.5" r="3.2"/>
<circle cx="695.5" cy="488.7" r="3.2"/>
<circle cx="696.6" cy="487.3" r="3.2"/>
<circle cx="697.8" cy="487.0" r="3.2"/>
<circle cx="698.9" cy="487.1" r="3.2"/>
<circle cx="700.0" cy="488.6" r="3.2"/>
<circle cx="701.1" cy="486.5" r="3.2"/>
<circle cx="702.3" cy="488.0" r="3.2"/>
<circle cx="703.4" cy="485.5" r="3.2"/>
<circle cx="704.5" cy="488.3" r="3.2"/>
<circle cx="705.7" cy="491.7" r="3.2"/>
<circle cx="706.8" cy="486.6" r="3.2"/>
<circle cx="707.9" cy="491.2" r="3.2"/>
<circle cx="709.1" cy="489.5" r="3.2"/>
<circle cx="710.2" cy="491.7" r="3.2"/>
<circle cx="711.3" cy="490.9" r="3.2"/>
<circle cx="712.4" cy="488.9" r="3.2"/>
<circle cx="713.6" cy="491.9" r="3.2"/>
<circle cx="714.7" cy="490.5" r="3.2"/>
<circle cx="715.8" cy="489.2" r="3.2"/>
<circle cx="717.0" cy="489.5" r="3.2"/>
<circle cx="718.1" cy="491.3" r="3.2"/>
<circle cx="719.2" cy="490.9" r="3.2"/>
<circle cx="720.4" cy="490.0" r="3.2"/>
<circle cx="721.5" cy="488.7" r="3.2"/>
<circle cx="722.6" cy="489.3" r="3.2"/>
<circle cx="723.7" cy="488.7" r="3.2"/>
<circle cx="724.9" cy="491.5" r="3.2"/>
<circle cx="726.0" cy="485.5" r="3.2"/>
<circle cx="727.1" cy="490.2" r="3.2"/>
<circle cx="728.3" cy="490.6" r="3.2"/>
<circle cx="729.4" cy="485.5" r="3.2"/>
<circle cx="730.5" cy="490.6" r="3.2"/>
<circle cx="731.6" cy="489.1" r="3.2"/>
<circle cx="732.8" cy="490.0" r="3.2"/>
<circle cx="733.9" cy="486.2" r="3.2"/>
<circle cx="735.0" cy="486.6" r="3.2"/>
<circle cx="736.2" cy="486.6" r="3.2"/>
<circle cx="737.3" cy="489.4" r="3.2"/>
<circle cx="738.4" cy="487.3" r="3.2"/>
<circle cx="739.6" cy="486.5" r="3.2"/>
<circle cx="740.7" cy="487.0" r="3.2"/>
<circle cx="741.8" cy="486.6" r="3.2"/>
<circle cx="742.9" cy="486.0" r="3.2"/>
<circle cx="744.1" cy="487.1" r="3.2"/>
<circle cx="745.2" cy="491.6" r="3.2"/>
<circle cx="746.3" cy="489.5" r="3.2"/>
<circle cx="747.5" cy="492.6" r="3.2"/>
<circle cx="748.6" cy="489.4" r="3.2"/>
<circle cx="749.7" cy="489.1" r="3.2"/>
<circle cx="750.8" cy="490.1" r="3.2"/>
<circle cx="752.0" cy="487.7" r="3.2"/>
<circle cx="753.1" cy="488.5" r="3.2"/>
<circle cx="754.2" cy="492.6" r="3.2"/>
<circle cx="755.4" cy="492.2" r="3.2"/>
<circle cx="756.5" cy="491.4" r="3.2"/>
<circle cx="757.6" cy="490.4" r="3.2"/>
<circle cx="758.8" cy="490.9" r="3.2"/>
<circle cx="759.9" cy="490.5" r="3.2"/>
<circle cx="761.0" cy="489.8" r="3.2"/>
<circle cx="762.1" cy="489.6" r="3.2"/>
<circle cx="763.3" cy="488.4" r="3.2"/>
<circle cx="764.4" cy="489.6" r="3.2"/>
<circle cx="765.5" cy="488.9" r="3.2"/>
<circle cx="766.7" cy="489.9" r="3.2"/>
<circle cx="767.8" cy="489.8" r="3.2"/>
<circle cx="768.9" cy="489.0" r="3.2"/>
<circle cx="770.1" cy="488.5" r="3.2"/>
<circle cx="771.2" cy="491.3" r="3.2"/>
<circle cx="772.3" cy="489.2" r="3.2"/>
<circle cx="773.4" cy="490.6" r="3.2"/>
<circle cx="774.6" cy="490.8" r="3.2"/>
<circle cx="775.7" cy="491.2" r="3.2"/>
<circle cx="776.8" cy="492.2" r="3.2"/>
<circle cx="778.0" cy="492.8" r="3.2"/>
<circle cx="779.1" cy="492.6" r="3.2"/>
<circle cx="780.2" cy="492.2" r="3.2"/>
<circle cx="781.3" cy="491.3" r="3.2"/>
<circle cx="782.5" cy="490.6" r="3.2"/>
<circle cx="783.6" cy="489.5" r="3.2"/>
<circle cx="784.7" cy="488.9" r="3.2"/>
<circle cx="785.9" cy="488.6" r="3.2"/>
<circle cx="787.0" cy="488.2" r="3.2"/>
<circle cx="788.1" cy="487.9" r="3.2"/>
<circle cx="789.3" cy="487.8" r="3.2"/>
<circle cx="790.4" cy="487.7" r="3.2"/>
<circle cx="791.5" cy="487.7" r="3.2"/>
<circle cx="792.6" cy="487.7" r="3.2"/>
<circle cx="793.8" cy="487.1" r="3.2"/>
<circle cx="794.9" cy="486.1" r="3.2"/>
<circle cx="796.0" cy="485.9" r="3.2"/>
<circle cx="797.2" cy="485.2" r="3.2"/>
<circle cx="798.3" cy="486.6" r="3.2"/>
<circle cx="799.4" cy="485.3" r="3.2"/>
<circle cx="800.5" cy="486.1" r="3.2"/>
<circle cx="801.7" cy="486.2" r="3.2"/>
<circle cx="802.8" cy="487.9" r="3.2"/>
<circle cx="803.9" cy="489.7" r="3.2"/>
<circle cx="805.1" cy="489.1" r="3.2"/>
<circle cx="806.2" cy="487.8" r="3.2"/>
<circle cx="807.3" cy="488.4" r="3.2"/>
<circle cx="808.5" cy="489.4" r="3.2"/>
<circle cx="809.6" cy="489.6" r="3.2"/>
<circle cx="810.7" cy="489.3" r="3.2"/>
<circle cx="811.8" cy="487.1" r="3.2"/>
<circle cx="813.0" cy="487.2" r="3.2"/>
<circle cx="814.1" cy="491.6" r="3.2"/>
<circle cx="815.2" cy="484.7" r="3.2"/>
<circle cx="816.4" cy="487.9" r="3.2"/>
<circle cx="817.5" cy="489.0" r="3.2"/>
<circle cx="818.6" cy="490.8" r="3.2"/>
<circle cx="819.8" cy="485.4" r="3.2"/>
<circle cx="820.9" cy="485.9" r="3.2"/>
<circle cx="822.0" cy="485.9" r="3.2"/>
<circle cx="823.1" cy="487.2" r="3.2"/>
<circle cx="824.3" cy="487.6" r="3.2"/>
<circle cx="825.4" cy="490.3" r="3.2"/>
<circle cx="826.5" cy="489.4" r="3.2"/>
<circle cx="827.7" cy="489.0" r="3.2"/>
<circle cx="828.8" cy="486.3" r="3.2"/>
<circle cx="829.9" cy="486.7" r="3.2"/>
<circle cx="831.0" cy="489.4" r="3.2"/>
<circle cx="832.2" cy="491.0" r="3.2"/>
<circle cx="833.3" cy="490.0" r="3.2"/>
<circle cx="834.4" cy="491.3" r="3.2"/>
<circle cx="835.6" cy="488.6" r="3.2"/>
<circle cx="836.7" cy="490.9" r="3.2"/>
<circle cx="837.8" cy="493.6" r="3.2"/>
<circle cx="839.0" cy="493.0" r="3.2"/>
<circle cx="840.1" cy="493.1" r="3.2"/>
<circle cx="841.2" cy="493.6" r="3.2"/>
<circle cx="842.3" cy="489.5" r="3.2"/>
<circle cx="843.5" cy="488.6" r="3.2"/>
<circle cx="844.6" cy="488.9" r="3.2"/>
<circle cx="845.7" cy="491.3" r="3.2"/>
<circle cx="846.9" cy="492.4" r="3.2"/>
<circle cx="848.0" cy="494.1" r="3.2"/>
<circle cx="849.1" cy="493.0" r="3.2"/>
<circle cx="850.3" cy="492.8" r="3.2"/>
<circle cx="851.4" cy="493.6" r="3.2"/>
<circle cx="852.5" cy="492.2" r="3.2"/>
<circle cx="853.6" cy="492.6" r="3.2"/>
<circle cx="854.8" cy="489.5" r="3.2"/>
<circle cx="855.9" cy="493.8" r="3.2"/>
<circle cx="857.0" cy="490.2" r="3.2"/>
<circle cx="858.2" cy="494.6" r="3.2"/>
<circle cx="859.3" cy="492.6" r="3.2"/>
<circle cx="860.4" cy="489.9" r="3.2"/>
<circle cx="861.5" cy="489.4" r="3.2"/>
<circle cx="862.7" cy="490.9" r="3.2"/>
<circle cx="863.8" cy="493.1" r="3.2"/>
<circle cx="864.9" cy="493.5" r="3.2"/>
<circle cx="866.1" cy="491.9" r="3.2"/>
<circle cx="867.2" cy="491.2" r="3.2"/>
<circle cx="868.3" cy="491.9" r="3.2"/>
<circle cx="869.5" cy="491.5" r="3.2"/>
<circle cx="870.6" cy="490.3" r="3.2"/>
<circle cx="871.7" cy="489.4" r="3.2"/>
<circle cx="872.8" cy="490.3" r="3.2"/>
<circle cx="874.0" cy="489.6" r="3.2"/>
<circle cx="875.1" cy="490.1" r="3.2"/>
<circle cx="876.2" cy="490.5" r="3.2"/>
<circle cx="877.4" cy="490.8" r="3.2"/>
<circle cx="878.5" cy="490.9" r="3.2"/>
<circle cx="879.6" cy="491.2" r="3.2"/>
<circle cx="880.7" cy="490.7" r="3.2"/>
<circle cx="881.9" cy="490.0" r="3.2"/>
<circle cx="883.0" cy="489.9" r="3.2"/>
<circle cx="884.1" cy="492.5" r="3.2"/>
<circle cx="885.3" cy="491.8" r="3.2"/>
<circle cx="886.4" cy="490.4" r="3.2"/>
<circle cx="887.5" cy="489.4" r="3.2"/>
<circle cx="888.7" cy="491.9" r="3.2"/>
<circle cx="889.8" cy="492.7" r="3.2"/>
<circle cx="890.9" cy="491.6" r="3.2"/>
<circle cx="892.0" cy="490.9" r="3.2"/>
<circle cx="893.2" cy="492.4" r="3.2"/>
<circle cx="894.3" cy="493.2" r="3.2"/>
<circle cx="895.4" cy="490.6" r="3.2"/>
<circle cx="896.6" cy="489.7" r="3.2"/>
<circle cx="897.7" cy="490.6" r="3.2"/>
<circle cx="898.8" cy="490.8" r="3.2"/>
<circle cx="900.0" cy="491.8" r="3.2"/>
<circle cx="901.1" cy="489.6" r="3.2"/>
<circle cx="902.2" cy="492.3" r="3.2"/>
<circle cx="903.3" cy="492.0" r="3.2"/>
<circle cx="904.5" cy="491.0" r="3.2"/>
<circle cx="905.6" cy="489.8" r="3.2"/>
<circle cx="906.7" cy="493.3" r="3.2"/>
<circle cx="907.9" cy="490.7" r="3.2"/>
<circle cx="909.0" cy="493.1" r="3.2"/>
<circle cx="910.1" cy="490.7" r="3.2"/>
<circle cx="911.2" cy="490.9" r="3.2"/>
<circle cx="912.4" cy="493.3" r="3.2"/>
<circle cx="913.5" cy="491.0" r="3.2"/>
<circle cx="914.6" cy="493.0" r="3.2"/>
<circle cx="915.8" cy="491.2" r="3.2"/>
<circle cx="916.9" cy="490.3" r="3.2"/>
<circle cx="918.0" cy="490.2" r="3.2"/>
<circle cx="919.2" cy="490.1" r="3.2"/>
<circle cx="920.3" cy="489.8" r="3.2"/>
<circle cx="921.4" cy="489.6" r="3.2"/>
<circle cx="922.5" cy="488.5" r="3.2"/>
<circle cx="923.7" cy="488.2" r="3.2"/>
<circle cx="924.8" cy="487.9" r="3.2"/>
<circle cx="925.9" cy="487.9" r="3.2"/>
<circle cx="927.1" cy="487.8" r="3.2"/>
<circle cx="928.2" cy="487.8" r="3.2"/>
<circle cx="929.3" cy="487.8" r="3.2"/>
<circle cx="108.1" cy="487.6" r="3.2"/>
<circle cx="112.6" cy="486.3" r="3.2"/>
<circle cx="123.7" cy="485.2" r="3.2"/>
<circle cx="141.3" cy="483.2" r="3.2"/>
<circle cx="148.3" cy="482.2" r="3.2"/>
<circle cx="153.4" cy="480.2" r="3.2"/>
<circle cx="156.4" cy="478.0" r="3.2"/>
<circle cx="162.4" cy="483.2" r="3.2"/>
<circle cx="167.0" cy="483.2" r="3.2"/>
<circle cx="172.5" cy="484.2" r="3.2"/>
<circle cx="178.5" cy="485.2" r="3.2"/>
<circle cx="183.4" cy="480.7" r="3.2"/>
<circle cx="188.6" cy="485.2" r="3.2"/>
<circle cx="195.7" cy="485.2" r="3.2"/>
<circle cx="204.0" cy="485.5" r="3.2"/>
<circle cx="210.4" cy="480.3" r="3.2"/>
<circle cx="218.6" cy="483.5" r="3.2"/>
<circle cx="222.7" cy="483.5" r="3.2"/>
<circle cx="231.2" cy="483.5" r="3.2"/>
<circle cx="235.8" cy="483.3" r="3.2"/>
<circle cx="243.3" cy="484.5" r="3.2"/>
<circle cx="251.9" cy="486.6" r="3.2"/>
<circle cx="259.4" cy="487.6" r="3.2"/>
<circle cx="270.5" cy="485.5" r="3.2"/>
<circle cx="275.5" cy="486.6" r="3.2"/>
<circle cx="283.6" cy="484.5" r="3.2"/>
<circle cx="291.4" cy="484.5" r="3.2"/>
<circle cx="298.2" cy="488.1" r="3.2"/>
<circle cx="303.0" cy="483.5" r="3.2"/>
<circle cx="307.0" cy="483.5" r="3.2"/>
<circle cx="314.1" cy="484.5" r="3.2"/>
<circle cx="322.2" cy="485.5" r="3.2"/>
<circle cx="327.7" cy="487.6" r="3.2"/>
<circle cx="335.2" cy="491.6" r="3.2"/>
<circle cx="339.8" cy="491.6" r="3.2"/>
<circle cx="346.5" cy="486.4" r="3.2"/>
<circle cx="354.4" cy="487.6" r="3.2"/>
<circle cx="364.5" cy="486.6" r="3.2"/>
<circle cx="369.5" cy="479.3" r="3.2"/>
<circle cx="373.5" cy="485.5" r="3.2"/>
<circle cx="379.6" cy="480.3" r="3.2"/>
<circle cx="386.1" cy="484.5" r="3.2"/>
<circle cx="393.5" cy="478.5" r="3.2"/>
<circle cx="399.2" cy="483.5" r="3.2"/>
<circle cx="401.5" cy="483.5" r="3.2"/>
<circle cx="409.6" cy="481.5" r="3.2"/>
<circle cx="415.1" cy="488.1" r="3.2"/>
<circle cx="421.1" cy="486.6" r="3.2"/>
<circle cx="427.2" cy="481.5" r="3.2"/>
<circle cx="432.4" cy="479.3" r="3.2"/>
<circle cx="440.3" cy="484.5" r="3.2"/>
<circle cx="448.3" cy="485.5" r="3.2"/>
<circle cx="458.4" cy="484.5" r="3.2"/>
<circle cx="462.4" cy="490.6" r="3.2"/>
<circle cx="466.5" cy="493.6" r="3.2"/>
<circle cx="471.5" cy="490.6" r="3.2"/>
<circle cx="476.5" cy="489.6" r="3.2"/>
<circle cx="484.4" cy="486.6" r="3.2"/>
<circle cx="492.1" cy="485.5" r="3.2"/>
<circle cx="498.2" cy="488.1" r="3.2"/>
<circle cx="504.0" cy="483.3" r="3.2"/>
<circle cx="510.1" cy="486.6" r="3.2"/>
<circle cx="515.1" cy="486.6" r="3.2"/>
<circle cx="520.6" cy="488.1" r="3.2"/>
<circle cx="528.5" cy="484.5" r="3.2"/>
<circle cx="538.3" cy="487.1" r="3.2"/>
<circle cx="544.3" cy="483.5" r="3.2"/>
<circle cx="553.4" cy="484.5" r="3.2"/>
<circle cx="559.4" cy="485.5" r="3.2"/>
<circle cx="567.5" cy="480.3" r="3.2"/>
<circle cx="571.5" cy="484.5" r="3.2"/>
<circle cx="579.6" cy="485.5" r="3.2"/>
<circle cx="586.6" cy="487.6" r="3.2"/>
<circle cx="591.4" cy="480.5" r="3.2"/>
<circle cx="598.7" cy="482.5" r="3.2"/>
<circle cx="600.0" cy="483.3" r="3.2"/>
<circle cx="610.1" cy="484.5" r="3.2"/>
<circle cx="615.6" cy="486.6" r="3.2"/>
<circle cx="624.5" cy="482.5" r="3.2"/>
<circle cx="633.2" cy="483.5" r="3.2"/>
<circle cx="637.8" cy="483.5" r="3.2"/>
<circle cx="646.5" cy="477.5" r="3.2"/>
<circle cx="650.4" cy="482.5" r="3.2"/>
<circle cx="658.4" cy="484.5" r="3.2"/>
<circle cx="665.5" cy="485.5" r="3.2"/>
<circle cx="670.5" cy="483.5" r="3.2"/>
<circle cx="678.5" cy="485.5" r="3.2"/>
<circle cx="686.4" cy="481.5" r="3.2"/>
<circle cx="694.7" cy="484.5" r="3.2"/>
<circle cx="699.2" cy="485.5" r="3.2"/>
<circle cx="703.5" cy="480.5" r="3.2"/>
<circle cx="709.6" cy="485.5" r="3.2"/>
<circle cx="718.1" cy="488.6" r="3.2"/>
<circle cx="727.2" cy="483.5" r="3.2"/>
<circle cx="733.2" cy="480.5" r="3.2"/>
<circle cx="741.3" cy="480.5" r="3.2"/>
<circle cx="747.3" cy="487.6" r="3.2"/>
<circle cx="753.4" cy="484.5" r="3.2"/>
<circle cx="760.4" cy="488.6" r="3.2"/>
<circle cx="764.5" cy="477.5" r="3.2"/>
<circle cx="767.0" cy="481.5" r="3.2"/>
<circle cx="772.5" cy="487.6" r="3.2"/>
<circle cx="779.6" cy="491.6" r="3.2"/>
<circle cx="783.6" cy="487.6" r="3.2"/>
<circle cx="790.4" cy="479.5" r="3.2"/>
<circle cx="796.7" cy="483.5" r="3.2"/>
<circle cx="805.0" cy="483.5" r="3.2"/>
<circle cx="810.1" cy="487.6" r="3.2"/>
<circle cx="814.6" cy="479.3" r="3.2"/>
<circle cx="820.6" cy="480.5" r="3.2"/>
<circle cx="830.2" cy="481.5" r="3.2"/>
<circle cx="836.3" cy="487.6" r="3.2"/>
<circle cx="844.3" cy="486.6" r="3.2"/>
<circle cx="852.4" cy="488.6" r="3.2"/>
<circle cx="860.4" cy="484.5" r="3.2"/>
<circle cx="865.5" cy="490.6" r="3.2"/>
<circle cx="871.5" cy="486.6" r="3.2"/>
<circle cx="877.5" cy="489.6" r="3.2"/>
<circle cx="884.4" cy="483.5" r="3.2"/>
<circle cx="890.6" cy="488.6" r="3.2"/>
<circle cx="894.7" cy="488.6" r="3.2"/>
<circle cx="901.1" cy="483.5" r="3.2"/>
<circle cx="904.1" cy="485.5" r="3.2"/>
<circle cx="911.2" cy="488.6" r="3.2"/>
<circle cx="918.2" cy="488.6" r="3.2"/>
<circle cx="924.3" cy="481.5" r="3.2"/>
<circle cx="929.3" cy="487.6" r="3.2"/>
<circle cx="108.0" cy="493.0" r="3.2"/>
<circle cx="111.3" cy="496.5" r="3.2"/>
<circle cx="118.1" cy="493.3" r="3.2"/>
<circle cx="122.7" cy="491.8" r="3.2"/>
<circle cx="130.2" cy="493.5" r="3.2"/>
<circle cx="140.3" cy="489.8" r="3.2"/>
<circle cx="145.3" cy="487.8" r="3.2"/>
<circle cx="151.4" cy="490.8" r="3.2"/>
<circle cx="157.4" cy="486.8" r="3.2"/>
<circle cx="164.5" cy="488.8" r="3.2"/>
<circle cx="170.5" cy="492.3" r="3.2"/>
<circle cx="176.0" cy="488.8" r="3.2"/>
<circle cx="182.1" cy="490.8" r="3.2"/>
<circle cx="187.6" cy="488.3" r="3.2"/>
<circle cx="192.6" cy="488.3" r="3.2"/>
<circle cx="197.7" cy="492.3" r="3.2"/>
<circle cx="205.0" cy="495.5" r="3.2"/>
<circle cx="215.1" cy="489.5" r="3.2"/>
<circle cx="221.1" cy="493.5" r="3.2"/>
<circle cx="228.2" cy="492.5" r="3.2"/>
<circle cx="233.7" cy="490.5" r="3.2"/>
<circle cx="241.3" cy="489.5" r="3.2"/>
<circle cx="250.4" cy="489.5" r="3.2"/>
<circle cx="261.4" cy="492.5" r="3.2"/>
<circle cx="268.5" cy="494.5" r="3.2"/>
<circle cx="274.0" cy="491.5" r="3.2"/>
<circle cx="279.6" cy="490.0" r="3.2"/>
<circle cx="289.1" cy="494.5" r="3.2"/>
<circle cx="296.7" cy="493.5" r="3.2"/>
<circle cx="304.0" cy="493.5" r="3.2"/>
<circle cx="313.1" cy="493.5" r="3.2"/>
<circle cx="320.1" cy="494.5" r="3.2"/>
<circle cx="331.2" cy="496.5" r="3.2"/>
<circle cx="344.3" cy="499.0" r="3.2"/>
<circle cx="348.3" cy="494.5" r="3.2"/>
<circle cx="355.4" cy="496.5" r="3.2"/>
<circle cx="360.4" cy="495.5" r="3.2"/>
<circle cx="367.5" cy="493.5" r="3.2"/>
<circle cx="374.5" cy="494.5" r="3.2"/>
<circle cx="382.6" cy="494.5" r="3.2"/>
<circle cx="391.1" cy="497.5" r="3.2"/>
<circle cx="396.7" cy="495.0" r="3.2"/>
<circle cx="404.0" cy="492.5" r="3.2"/>
<circle cx="410.6" cy="493.5" r="3.2"/>
<circle cx="419.1" cy="495.5" r="3.2"/>
<circle cx="430.2" cy="493.5" r="3.2"/>
<circle cx="436.3" cy="490.5" r="3.2"/>
<circle cx="444.3" cy="495.5" r="3.2"/>
<circle cx="453.4" cy="495.5" r="3.2"/>
<circle cx="463.4" cy="496.5" r="3.2"/>
<circle cx="470.0" cy="497.5" r="3.2"/>
<circle cx="477.5" cy="498.5" r="3.2"/>
<circle cx="485.6" cy="497.0" r="3.2"/>
<circle cx="491.6" cy="497.0" r="3.2"/>
<circle cx="497.7" cy="496.0" r="3.2"/>
<circle cx="503.0" cy="491.0" r="3.2"/>
<circle cx="510.1" cy="492.5" r="3.2"/>
<circle cx="521.1" cy="495.5" r="3.2"/>
<circle cx="529.2" cy="494.0" r="3.2"/>
<circle cx="537.3" cy="493.5" r="3.2"/>
<circle cx="543.3" cy="492.5" r="3.2"/>
<circle cx="550.4" cy="488.0" r="3.2"/>
<circle cx="557.4" cy="490.5" r="3.2"/>
<circle cx="565.5" cy="494.0" r="3.2"/>
<circle cx="573.5" cy="499.0" r="3.2"/>
<circle cx="578.5" cy="492.5" r="3.2"/>
<circle cx="585.6" cy="494.5" r="3.2"/>
<circle cx="593.7" cy="487.0" r="3.2"/>
<circle cx="599.2" cy="491.0" r="3.2"/>
<circle cx="601.0" cy="491.5" r="3.2"/>
<circle cx="611.1" cy="492.5" r="3.2"/>
<circle cx="619.1" cy="493.5" r="3.2"/>
<circle cx="628.2" cy="492.0" r="3.2"/>
<circle cx="635.2" cy="491.0" r="3.2"/>
<circle cx="643.3" cy="488.0" r="3.2"/>
<circle cx="652.4" cy="492.5" r="3.2"/>
<circle cx="662.4" cy="492.5" r="3.2"/>
<circle cx="670.5" cy="490.5" r="3.2"/>
<circle cx="677.5" cy="492.0" r="3.2"/>
<circle cx="683.6" cy="490.0" r="3.2"/>
<circle cx="693.7" cy="490.5" r="3.2"/>
<circle cx="698.7" cy="489.5" r="3.2"/>
<circle cx="701.0" cy="490.5" r="3.2"/>
<circle cx="706.0" cy="493.5" r="3.2"/>
<circle cx="715.1" cy="496.5" r="3.2"/>
<circle cx="722.2" cy="494.5" r="3.2"/>
<circle cx="730.2" cy="492.5" r="3.2"/>
<circle cx="738.3" cy="490.5" r="3.2"/>
<circle cx="746.3" cy="495.5" r="3.2"/>
<circle cx="755.4" cy="496.5" r="3.2"/>
<circle cx="761.4" cy="491.0" r="3.2"/>
<circle cx="772.5" cy="493.0" r="3.2"/>
<circle cx="778.5" cy="497.5" r="3.2"/>
<circle cx="782.1" cy="497.0" r="3.2"/>
<circle cx="787.6" cy="489.0" r="3.2"/>
<circle cx="792.6" cy="489.0" r="3.2"/>
<circle cx="798.2" cy="491.5" r="3.2"/>
<circle cx="803.0" cy="491.5" r="3.2"/>
<circle cx="810.1" cy="495.5" r="3.2"/>
<circle cx="817.1" cy="493.5" r="3.2"/>
<circle cx="824.2" cy="492.5" r="3.2"/>
<circle cx="829.2" cy="490.0" r="3.2"/>
<circle cx="835.2" cy="495.5" r="3.2"/>
<circle cx="842.3" cy="495.0" r="3.2"/>
<circle cx="854.4" cy="496.5" r="3.2"/>
<circle cx="858.4" cy="496.5" r="3.2"/>
<circle cx="866.5" cy="495.5" r="3.2"/>
<circle cx="874.5" cy="491.5" r="3.2"/>
<circle cx="881.6" cy="493.0" r="3.2"/>
<circle cx="888.6" cy="495.5" r="3.2"/>
<circle cx="896.7" cy="494.5" r="3.2"/>
<circle cx="905.1" cy="494.5" r="3.2"/>
<circle cx="912.2" cy="496.5" r="3.2"/>
<circle cx="920.2" cy="491.5" r="3.2"/>
<circle cx="927.3" cy="488.5" r="3.2"/>
<circle cx="929.5" cy="488.0" r="3.2"/>
<circle cx="120.6" cy="478.4" r="3.2"/>
<circle cx="132.4" cy="479.2" r="3.2"/>
<circle cx="190.4" cy="476.4" r="3.2"/>
<circle cx="388.4" cy="465.3" r="3.2"/>
<circle cx="765.5" cy="470.3" r="3.2"/>
<circle cx="785.8" cy="484.0" r="3.2"/>
<circle cx="787.8" cy="482.3" r="3.2"/>
<circle cx="768.6" cy="484.2" r="3.2"/>
<circle cx="792.8" cy="482.0" r="3.2"/>
</g>
<g clip-path="url(#ax)" stroke="#660066"><line x1="99.4" x2="929.2" y1="118.5" y2="118.5" stroke-width="6.6" stroke-dasharray="7.5 1.2" opacity="0.5"/><line x1="100" x2="929.2" y1="118.5" y2="118.5" stroke-width="5"/><circle cx="929.15" cy="118.5" r="3.15" fill="#660066" stroke="none"/></g>
<filter id="thick" x="-20%" y="-20%" width="140%" height="140%" color-interpolation-filters="sRGB"><feOffset in="SourceGraphic" dx="0" dy="1" result="o"/><feComponentTransfer in="o" result="o2"><feFuncA type="linear" slope="0.45"/></feComponentTransfer><feMerge><feMergeNode in="o2"/><feMergeNode in="SourceGraphic"/></feMerge></filter>
<g filter="url(#thick)"><text transform="translate(949.0,433.7) rotate(90) scale(0.78,1)" font-size="23.4">Now</text></g>
<rect x="106.0" y="112.0" width="867.0" height="391.00" fill="none" stroke="#000" stroke-width="2.2"/>
<g stroke="#000" stroke-width="2">
<line x1="96.00" x2="106.0" y1="437.00" y2="437.00"/>
<line x1="96.00" x2="106.0" y1="359.00" y2="359.00"/>
<line x1="96.00" x2="106.0" y1="281.00" y2="281.00"/>
<line x1="96.00" x2="106.0" y1="203.00" y2="203.00"/>
<line x1="96.00" x2="106.0" y1="125.00" y2="125.00"/>
<line x1="208.00" x2="208.00" y1="503.0" y2="513.00"/>
<line x1="415.00" x2="415.00" y1="503.0" y2="513.00"/>
<line x1="621.00" x2="621.00" y1="503.0" y2="513.00"/>
<line x1="827.00" x2="827.00" y1="503.0" y2="513.00"/>
</g><g stroke="#000" stroke-width="2">
<line x1="139.00" x2="139.00" y1="503.0" y2="509.00"/>
<line x1="173.00" x2="173.00" y1="503.0" y2="509.00"/>
<line x1="242.00" x2="242.00" y1="503.0" y2="509.00"/>
<line x1="277.00" x2="277.00" y1="503.0" y2="509.00"/>
<line x1="312.00" x2="312.00" y1="503.0" y2="509.00"/>
<line x1="346.00" x2="346.00" y1="503.0" y2="509.00"/>
<line x1="381.00" x2="381.00" y1="503.0" y2="509.00"/>
<line x1="450.00" x2="450.00" y1="503.0" y2="509.00"/>
<line x1="485.00" x2="485.00" y1="503.0" y2="509.00"/>
<line x1="516.00" x2="516.00" y1="503.0" y2="509.00"/>
<line x1="551.00" x2="551.00" y1="503.0" y2="509.00"/>
<line x1="585.00" x2="585.00" y1="503.0" y2="509.00"/>
<line x1="654.00" x2="654.00" y1="503.0" y2="509.00"/>
<line x1="689.00" x2="689.00" y1="503.0" y2="509.00"/>
<line x1="724.00" x2="724.00" y1="503.0" y2="509.00"/>
<line x1="758.00" x2="758.00" y1="503.0" y2="509.00"/>
<line x1="793.00" x2="793.00" y1="503.0" y2="509.00"/>
<line x1="862.00" x2="862.00" y1="503.0" y2="509.00"/>
<line x1="897.00" x2="897.00" y1="503.0" y2="509.00"/>
<line x1="929.00" x2="929.00" y1="503.0" y2="509.00"/>
<line x1="964.00" x2="964.00" y1="503.0" y2="509.00"/>
</g>
<g font-size="25">
<text x="56.0 70.69" y="447.50">10</text>
<text x="56.2 70.69" y="369.50">20</text>
<text x="56.06 70.69" y="290.50">30</text>
<text x="54.8 70.0" y="212.50">40</text>
<text x="56.3 70.69" y="133.60">50</text>
<text x="156.75" y="541.7" textLength="102.8" lengthAdjust="spacing">06/2024</text>
<text x="363.75" y="541.7" textLength="102.8" lengthAdjust="spacing">12/2024</text>
<text x="568.75" y="541.7" textLength="102.8" lengthAdjust="spacing">06/2025</text>
<text x="775.75" y="541.7" textLength="102.8" lengthAdjust="spacing">12/2025</text>
<text x="470.1" y="577.1" textLength="138.7" lengthAdjust="spacing">Month/Year</text>
<text transform="translate(37.5,314.5) rotate(-90)" text-anchor="middle">Cycle Slipsx1000/nr. Obs</text>
</g>
<rect x="20.5" y="598.5" width="949.8" height="44" rx="5" ry="5" fill="#fff" stroke="#d5d5d5" stroke-width="2.78"/>
<circle cx="43.6" cy="618.6" r="4.2" fill="#fdb503"/>
<text x="57.75" y="626.3" font-size="25" textLength="52.0" lengthAdjust="spacing">BDS</text>
<circle cx="286.6" cy="618.6" r="4.2" fill="#847fbf"/>
<text x="301.25" y="626.3" font-size="25" textLength="91.5" lengthAdjust="spacing">RINEX2</text>
<circle cx="569.5" cy="618.6" r="4.2" fill="#660066"/>
<text x="584.85" y="626.3" font-size="25" textLength="91.7" lengthAdjust="spacing">RINEX3</text>
<circle cx="853.4" cy="618.6" r="4.2" fill="#1d0826"/>
<text x="868.20" y="626.3" font-size="25" textLength="91.4" lengthAdjust="spacing">RINEX4</text>
<text x="20.55" y="675.7" font-size="19.44" font-style="italic" xml:space="preserve" textLength="259.55" lengthAdjust="spacing">Wed Mar  4 14:21:03 2026</text>
<text x="830.95" y="675.7" font-size="19.44" font-style="italic" textLength="133.82" lengthAdjust="spacing">©GNSS@ROB</text>
</svg></body></html>
